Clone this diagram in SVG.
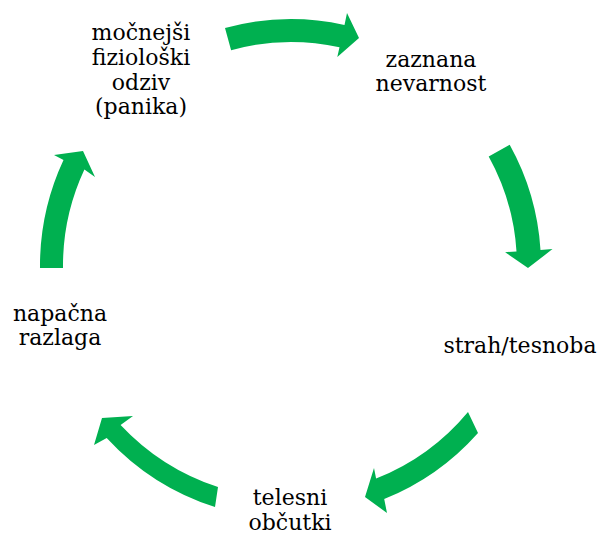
<svg xmlns="http://www.w3.org/2000/svg" width="602" height="536" viewBox="0 0 602 536">
  <style>
    .arrow { fill: #00B050; stroke: none; }
    .label { font-family: "DejaVu Serif", "Liberation Serif", serif; font-size: 22px; fill: #000000; text-anchor: middle; }
  </style>
  <rect x="0" y="0" width="602" height="536" fill="#FFFFFF"/>

  <!-- curved block arrows of the cycle -->
  <g id="connectors">
    <path class="arrow" d="M225,28 A247,247 0 0 1 344.5,24.9 L347,13.1 L359,37.9 L337.3,57.1 L339.5,47.3 A224,224 0 0 0 231.1,50.2 Z"/>
    <path class="arrow" d="M509.7,144.8 A250,250 0 0 1 540.5,249.9 L552.5,249.1 L528,268.1 L505.1,252.2 L516.5,251.4 A226,226 0 0 0 488.7,156.4 Z"/>
    <path class="arrow" d="M478,433 A251,251 0 0 1 384.2,499.1 L387,513 L365,497 L374,468 L376.1,478.6 A229,229 0 0 0 468,412 Z"/>
    <path class="arrow" d="M215,507 A252,252 0 0 1 106.7,437.9 L94,445 L102,418 L133,416 L120.6,424.9 A233,233 0 0 0 218,487 Z"/>
    <path class="arrow" d="M40,268 A251,251 0 0 1 63.5,159.9 L54,155 L83,151 L95,177 L84.4,169.6 A228,228 0 0 0 63,268 Z"/>
  </g>

  <g id="node-zaznana-nevarnost">
    <text class="label" x="431" y="67">zaznana</text>
    <text class="label" x="431" y="91">nevarnost</text>
  </g>

  <g id="node-strah-tesnoba">
    <text class="label" x="520" y="353">strah/tesnoba</text>
  </g>

  <g id="node-telesni-obcutki">
    <text class="label" x="290" y="505">telesni</text>
    <text class="label" x="290" y="530">občutki</text>
  </g>

  <g id="node-napacna-razlaga">
    <text class="label" x="60" y="321">napačna</text>
    <text class="label" x="60" y="345">razlaga</text>
  </g>

  <g id="node-mocnejsi-odziv">
    <text class="label" x="141" y="40">močnejši</text>
    <text class="label" x="141" y="65">fiziološki</text>
    <text class="label" x="141" y="90">odziv</text>
    <text class="label" x="141" y="114">(panika)</text>
  </g>
</svg>
